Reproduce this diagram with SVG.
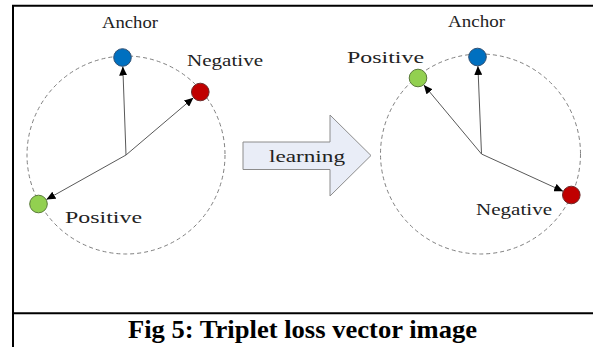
<svg xmlns="http://www.w3.org/2000/svg" width="593" height="347" viewBox="0 0 593 347">
<style>
.lbl{font-family:"Liberation Serif","DejaVu Serif",serif;font-size:17px;fill:#222}
.orbit{fill:none;stroke:#7f7f7f;stroke-width:1;stroke-dasharray:4 3}
.vec{stroke:#595959;stroke-width:1;fill:none}
.anc{fill:#0070C0;stroke:#2f4f73;stroke-width:1}
.neg{fill:#C00000;stroke:#6b2a2a;stroke-width:1}
.pos{fill:#92D050;stroke:#5a7a3a;stroke-width:1}
.frame{stroke:#000;stroke-width:2;fill:none}
</style>
<defs>
<marker id="ah" markerUnits="userSpaceOnUse" markerWidth="10" markerHeight="8" refX="9" refY="4" orient="auto">
<path d="M0,0 L9,4 L0,8 Z" fill="#000"/>
</marker>
</defs>
<rect width="593" height="347" fill="#fff"/>
<g id="frame">
<path class="frame" d="M13,347 V5.7 H593"/>
<path class="frame" d="M13,313.3 H593"/>
</g>
<g id="orbits">
<circle class="orbit" cx="126" cy="155" r="99"/>
<circle class="orbit" cx="480.5" cy="154" r="100"/>
</g>
<g id="connectors">
<line class="vec" x1="126" y1="155" x2="122.8" y2="66.5" marker-end="url(#ah)"/>
<line class="vec" x1="126" y1="155" x2="193.4" y2="97.8" marker-end="url(#ah)"/>
<line class="vec" x1="126" y1="155" x2="46.4" y2="199.6" marker-end="url(#ah)"/>
<line class="vec" x1="481.5" y1="154" x2="477.9" y2="66" marker-end="url(#ah)"/>
<line class="vec" x1="481.5" y1="154" x2="423.8" y2="84.9" marker-end="url(#ah)"/>
<line class="vec" x1="481.5" y1="154" x2="563.1" y2="191.3" marker-end="url(#ah)"/>
</g>
<g id="left-anchor">
<circle class="anc" cx="122.5" cy="57.5" r="8.8"/>
<text class="lbl" x="102" y="28" textLength="56" lengthAdjust="spacingAndGlyphs">Anchor</text>
</g>
<g id="left-negative">
<circle class="neg" cx="200.3" cy="92" r="8.8"/>
<text class="lbl" x="187" y="66" textLength="76" lengthAdjust="spacingAndGlyphs">Negative</text>
</g>
<g id="left-positive">
<circle class="pos" cx="38.5" cy="204" r="8.8"/>
<text class="lbl" x="65" y="223" textLength="77" lengthAdjust="spacingAndGlyphs">Positive</text>
</g>
<g id="learning-arrow">
<polygon points="243,142 330,142 330,115 371,155.5 330,196 330,169.5 243,169.5" fill="#E9EDF7" stroke="#8c8c8c" stroke-width="1"/>
<text class="lbl" x="269" y="161.5" textLength="76" lengthAdjust="spacingAndGlyphs">learning</text>
</g>
<g id="right-anchor">
<circle class="anc" cx="477.5" cy="57" r="8.8"/>
<text class="lbl" x="448" y="27" textLength="57" lengthAdjust="spacingAndGlyphs">Anchor</text>
</g>
<g id="right-positive">
<circle class="pos" cx="418" cy="78" r="8.8"/>
<text class="lbl" x="347" y="63" textLength="77" lengthAdjust="spacingAndGlyphs">Positive</text>
</g>
<g id="right-negative">
<circle class="neg" cx="571.3" cy="195" r="8.8"/>
<text class="lbl" x="476" y="215" textLength="76" lengthAdjust="spacingAndGlyphs">Negative</text>
</g>
<g id="caption">
<text x="128" y="338" font-family="'Liberation Serif','Times New Roman',serif" font-size="25" font-weight="bold" fill="#000" textLength="349" lengthAdjust="spacingAndGlyphs">Fig 5: Triplet loss vector image</text>
</g>
</svg>
